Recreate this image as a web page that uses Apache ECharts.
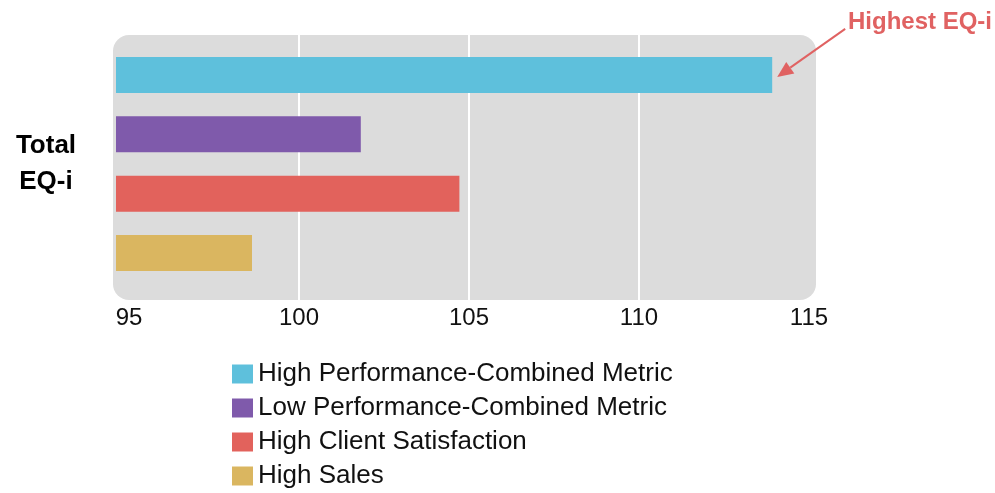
<!DOCTYPE html>
<html>
<head>
<meta charset="utf-8">
<script src="https://cdn.jsdelivr.net/npm/echarts@6/dist/echarts.min.js"></script>
<style>html,body{margin:0;padding:0;background:#fff}#c{width:995px;height:493px}</style>
</head>
<body>
<div id="c"></div>
<script>
const categories = ['Total EQ-i'];
const seriesNames = ['High Performance-Combined Metric','Low Performance-Combined Metric','High Client Satisfaction','High Sales'];
const seriesValues = [113.9, 101.8, 104.7, 98.6];
const seriesColors = ['#5ec0dc','#7f5aab','#e2625c','#dab660'];
const tickValues = [95, 100, 105, 110, 115];
const annotationText = 'Highest EQ-i';

const FONT = 'Arial, "Liberation Sans", sans-serif';
const chart = echarts.init(document.getElementById('c'), null, {renderer:'canvas'});

const series = seriesNames.map((n,i)=>({
  name:n, type:'bar', xAxisIndex:0, yAxisIndex:0,
  data:[seriesValues[i]], barWidth:36, barGap:'65%',
  itemStyle:{color:seriesColors[i]}, z:3, silent:true
}));

const bgRect = {type:'rect', z:-10, shape:{x:113, y:35, width:703, height:265, r:16}, style:{fill:'#dcdcdc'}};

chart.setOption({
  animation:false,
  grid:[
    {left:116, top:31, width:693.6, height:266},
    {left:129, top:35, width:680, height:265}
  ],
  xAxis:[
    {gridIndex:0, type:'value', min:94.6, max:tickValues[tickValues.length-1], show:false},
    {gridIndex:1, type:'value', min:tickValues[0], max:tickValues[tickValues.length-1], interval:5,
     axisLine:{show:false}, axisTick:{show:false},
     splitLine:{show:true, showMinLine:false, showMaxLine:false, lineStyle:{color:'#ffffff', width:2}},
     axisLabel:{fontSize:24, color:'#111', fontFamily:FONT, margin:6,
       showMinLabel:true, showMaxLabel:true}}
  ],
  yAxis:[
    {gridIndex:0, type:'category', data:categories, inverse:true,
     axisLine:{show:false}, axisTick:{show:false}, splitLine:{show:false},
     axisLabel:{formatter:()=>'Total\nEQ-i', fontSize:26, fontWeight:'bold', color:'#000',
       fontFamily:FONT, align:'center', margin:70, lineHeight:36}},
    {gridIndex:1, type:'category', data:categories, show:false}
  ],
  legend:{
    orient:'vertical', left:232, top:361, height:140, padding:0, itemWidth:21, itemHeight:19, itemGap:8,
    icon:'rect', data:seriesNames,
    textStyle:{fontSize:26, color:'#111', fontFamily:FONT}
  },
  series:series,
  graphic:{elements:[bgRect]}
});

// annotation arrow anchored to the top bar's end
const lay = chart.getModel().getSeriesByIndex(0).getData().getItemLayout(0);
const tipX = lay.x + lay.width + 5;
const tipY = lay.y + lay.height/2 + 2;
const tailX = tipX + 68, tailY = tipY - 48;
const ang = Math.atan2(tipY - tailY, tipX - tailX);
const hl = 16, hw = 7;
const bx = tipX - hl*Math.cos(ang), by = tipY - hl*Math.sin(ang);
const px = -Math.sin(ang)*hw, py = Math.cos(ang)*hw;
chart.setOption({graphic:{elements:[
  bgRect,
  {type:'line', z:10, shape:{x1:tailX, y1:tailY, x2:bx, y2:by}, style:{stroke:'#e06262', lineWidth:2}},
  {type:'polygon', z:10, shape:{points:[[tipX,tipY],[bx+px,by+py],[bx-px,by-py]]}, style:{fill:'#e06262'}},
  {type:'text', z:10, right:3, top:10, style:{text:annotationText, fill:'#e06262',
    font:'bold 24px ' + FONT}}
]}});
</script>
</body>
</html>
